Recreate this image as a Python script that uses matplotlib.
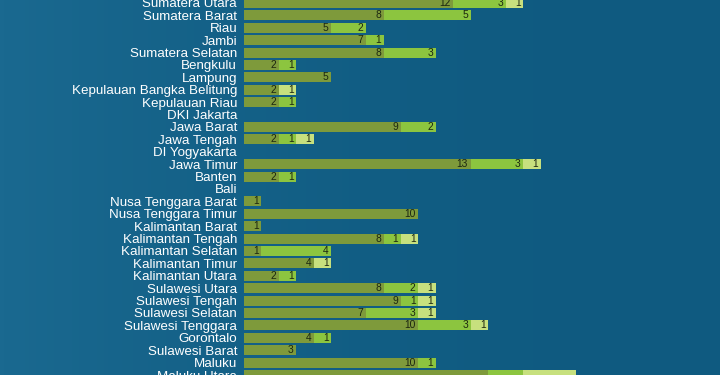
"""
Stacked horizontal bars per province (three categories), dark teal background.

Output:
- out.png (720x375)
"""

import matplotlib.pyplot as plt
import numpy as np

provinces = [
    "Sumatera Utara", "Sumatera Barat", "Riau", "Jambi", "Sumatera Selatan",
    "Bengkulu", "Lampung", "Kepulauan Bangka Belitung", "Kepulauan Riau",
    "DKI Jakarta", "Jawa Barat", "Jawa Tengah", "DI Yogyakarta", "Jawa Timur",
    "Banten", "Bali", "Nusa Tenggara Barat", "Nusa Tenggara Timur",
    "Kalimantan Barat", "Kalimantan Tengah", "Kalimantan Selatan",
    "Kalimantan Timur", "Kalimantan Utara", "Sulawesi Utara", "Sulawesi Tengah",
    "Sulawesi Selatan", "Sulawesi Tenggara", "Gorontalo", "Sulawesi Barat",
    "Maluku", "Maluku Utara",
]

series_a = [12, 8, 5, 7, 8, 2, 5, 2, 2, 0, 9, 2, 0, 13, 2, 0, 1, 10, 1, 8, 1, 4, 2, 8, 9, 7, 10, 4, 3, 10, 14]
series_b = [3, 5, 2, 1, 3, 1, 0, 0, 1, 0, 2, 1, 0, 3, 1, 0, 0, 0, 0, 1, 4, 0, 1, 2, 1, 3, 3, 1, 0, 1, 2]
series_c = [1, 0, 0, 0, 0, 0, 0, 1, 0, 0, 0, 1, 0, 1, 0, 0, 0, 0, 0, 1, 0, 1, 0, 1, 1, 1, 1, 0, 0, 0, 3]

BG = "#0f5a80"
COLORS = ["#7e9a3b", "#8cc53f", "#c7e07e"]


def main() -> int:
    fig = plt.figure(figsize=(7.2, 3.75), dpi=100)
    fig.patch.set_facecolor(BG)

    # faint lighter wash on the left, like the textured backdrop
    bg = fig.add_axes([0, 0, 1, 1], zorder=-1)
    grad = np.linspace(1.0, 0.0, 200) ** 2
    bg.imshow(grad[None, :], extent=[0, 1, 0, 1], aspect="auto",
              cmap=plt.matplotlib.colors.LinearSegmentedColormap.from_list(
                  "wash", [BG, "#1a6990"]), vmin=0, vmax=1)
    bg.set_axis_off()

    # axes spans full height; rows are clipped at top and bottom like the source
    ax = fig.add_axes([244 / 720, 0.0, 1 - 244 / 720, 1.0])
    ax.set_facecolor("none")

    row_px = 12.52
    y_bottom = 372 / row_px

    y = np.arange(len(provinces))
    left = np.zeros(len(provinces))
    for vals, color in zip([series_a, series_b, series_c], COLORS):
        vals = np.array(vals, dtype=float)
        ax.barh(y, vals, left=left, height=0.8, color=color, linewidth=0)
        for yi, (l, v) in enumerate(zip(left, vals)):
            # last row is mostly below the frame: its numbers are not visible
            if v > 0 and yi + 0.3 < y_bottom:
                ax.annotate(
                    f"{int(v)}", xy=(l + v, yi), xytext=(-2, 0),
                    textcoords="offset points", ha="right", va="center",
                    fontsize=7.4, color="#1c2610", family="Liberation Sans",
                )
        left += vals

    px_per_unit = 17.45
    ax.set_xlim(0, (720 - 244) / px_per_unit)
    ax.set_ylim(y_bottom, -3 / row_px)

    ax.set_yticks(y)
    ax.set_yticklabels(provinces, family="Liberation Sans", fontsize=9.6, color="white")
    ax.tick_params(axis="y", length=0, pad=5)
    ax.set_xticks([])
    for s in ax.spines.values():
        s.set_visible(False)

    fig.savefig("out.png", dpi=100, facecolor=BG)
    plt.close(fig)
    return 0


if __name__ == "__main__":
    raise SystemExit(main())
